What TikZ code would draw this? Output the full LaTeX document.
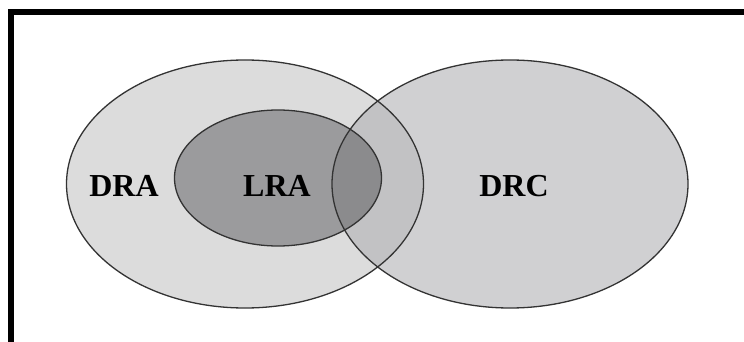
\documentclass[tikz,border=0pt]{standalone}
\usepackage{fontspec}
\setmainfont{Liberation Serif}
\usetikzlibrary{shapes.geometric}
\definecolor{draC}{HTML}{DCDCDC}
\definecolor{drcC}{HTML}{D0D0D2}
\definecolor{ovC}{HTML}{C2C2C4}
\definecolor{lraC}{HTML}{9B9B9D}
\definecolor{lovC}{HTML}{8B8B8D}
\definecolor{edgeC}{HTML}{333333}
\begin{document}
\begin{tikzpicture}[x=1pt,y=-1pt,
  region/.style={ellipse,draw=edgeC,line width=1.3pt,inner sep=0pt},
  lbl/.style={font=\fontsize{32}{36}\selectfont\bfseries,inner sep=0pt}]
\useasboundingbox (0,0) rectangle (744,342);
\clip (0,0) rectangle (744,342);
\fill[white] (0,0) rectangle (744,342);
% fills
\fill[draC] (245,184) ellipse [x radius=178.5, y radius=124];
\fill[drcC] (510,184) ellipse [x radius=178, y radius=124];
\begin{scope}
  \clip (245,184) ellipse [x radius=178.5, y radius=124];
  \fill[ovC] (510,184) ellipse [x radius=178, y radius=124];
\end{scope}
\fill[lraC] (278,178) ellipse [x radius=103.5, y radius=68];
\begin{scope}
  \clip (278,178) ellipse [x radius=103.5, y radius=68];
  \fill[lovC] (510,184) ellipse [x radius=178, y radius=124];
\end{scope}
% outlines as named nodes
\node[region,minimum width=357pt,minimum height=248pt] (dra) at (245,184) {};
\node[region,minimum width=356pt,minimum height=248pt] (drc) at (510,184) {};
\node[region,minimum width=207pt,minimum height=136pt] (lra) at (278,178) {};
% labels
\node[lbl] (tdra) at (124,186) {DRA};
\node[lbl] (tlra) at (277,186) {LRA};
\node[lbl] (tdrc) at (514,186) {DRC};
% frame
\draw[line width=6pt] (11,400) -- (11,12) -- (800,12);
\end{tikzpicture}
\end{document}
